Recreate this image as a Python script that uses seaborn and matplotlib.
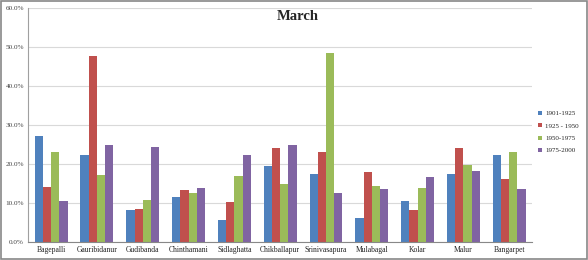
import matplotlib
matplotlib.use("Agg")
import matplotlib.pyplot as plt
import seaborn as sns
import pandas as pd
from matplotlib.ticker import FuncFormatter

categories = ["Bagepalli", "Gauribidanur", "Gudibanda", "Chinthamani", "Sidlaghatta",
              "Chikballapur", "Srinivasapura", "Mulabagal", "Kolar", "Malur", "Bangarpet"]
series_names = ["1901-1925", "1925 - 1950", "1950-1975", "1975-2000"]
s1901 = [27.2, 22.2, 8.2, 11.5, 5.7, 19.4, 17.4, 6.1, 10.6, 17.5, 22.2]
s1925 = [14.0, 47.8, 8.5, 13.3, 10.4, 24.1, 23.2, 18.0, 8.2, 24.1, 16.2]
s1950 = [23.0, 17.2, 10.7, 12.5, 17.0, 15.0, 48.6, 14.3, 13.8, 19.8, 23.0]
s1975 = [10.5, 24.9, 24.3, 13.8, 22.2, 24.8, 12.5, 13.6, 16.8, 18.3, 13.6]
colors = ["#4F81BD", "#C0504D", "#9BBB59", "#8064A2"]
yticks = [0, 10, 20, 30, 40, 50, 60]

rows = []
for name, vals in zip(series_names, [s1901, s1925, s1950, s1975]):
    for c, v in zip(categories, vals):
        rows.append({"District": c, "Period": name, "Value": v})
df = pd.DataFrame(rows)

sns.set_theme(style="white")
plt.rcParams['font.family'] = ['Liberation Serif', 'DejaVu Serif']

fig = plt.figure(figsize=(5.88, 2.6), dpi=100)
fig.patch.set_facecolor("white")
ax = fig.add_axes([0.048, 0.069, 0.857, 0.9])
sns.barplot(data=df, x="District", y="Value", hue="Period", order=categories,
            hue_order=series_names, palette=colors, width=0.72, ax=ax,
            edgecolor="none", errorbar=None, saturation=1)

ax.set_ylim(0, 60)
ax.set_yticks(yticks)
ax.yaxis.set_major_formatter(FuncFormatter(lambda v, p: f"{v:.1f}%"))
ax.set_xlim(-0.5, len(categories) - 0.5)
ax.set_xlabel("")
ax.set_ylabel("")
ax.grid(axis="y", color="#D9D9D9", linewidth=0.8)
ax.set_axisbelow(True)
for s in ["top", "right"]:
    ax.spines[s].set_visible(False)
ax.spines["left"].set_color("#A0A0A0")
ax.spines["left"].set_linewidth(0.8)
ax.spines["bottom"].set_color("#888888")
ax.spines["bottom"].set_linewidth(0.8)
ax.tick_params(axis="x", length=0, labelsize=5.5, colors="#222222", pad=3)
ax.tick_params(axis="y", length=0, labelsize=5.2, colors="#444444", pad=3)

ax.set_title("March", fontsize=10.5, fontweight="bold", x=0.535, y=0.915)

handles, labels = ax.get_legend_handles_labels()
ax.legend(handles, labels, loc="center left", bbox_to_anchor=(1.0, 0.47),
          frameon=False, fontsize=5, handlelength=0.5, handleheight=0.5,
          handletextpad=0.5, labelspacing=1.0)

# outer border
fig.add_artist(plt.Rectangle((0.002, 0.004), 0.996, 0.992, transform=fig.transFigure,
                             fill=False, edgecolor="#888888", linewidth=1.2))

fig.savefig("out.png", dpi=100)
